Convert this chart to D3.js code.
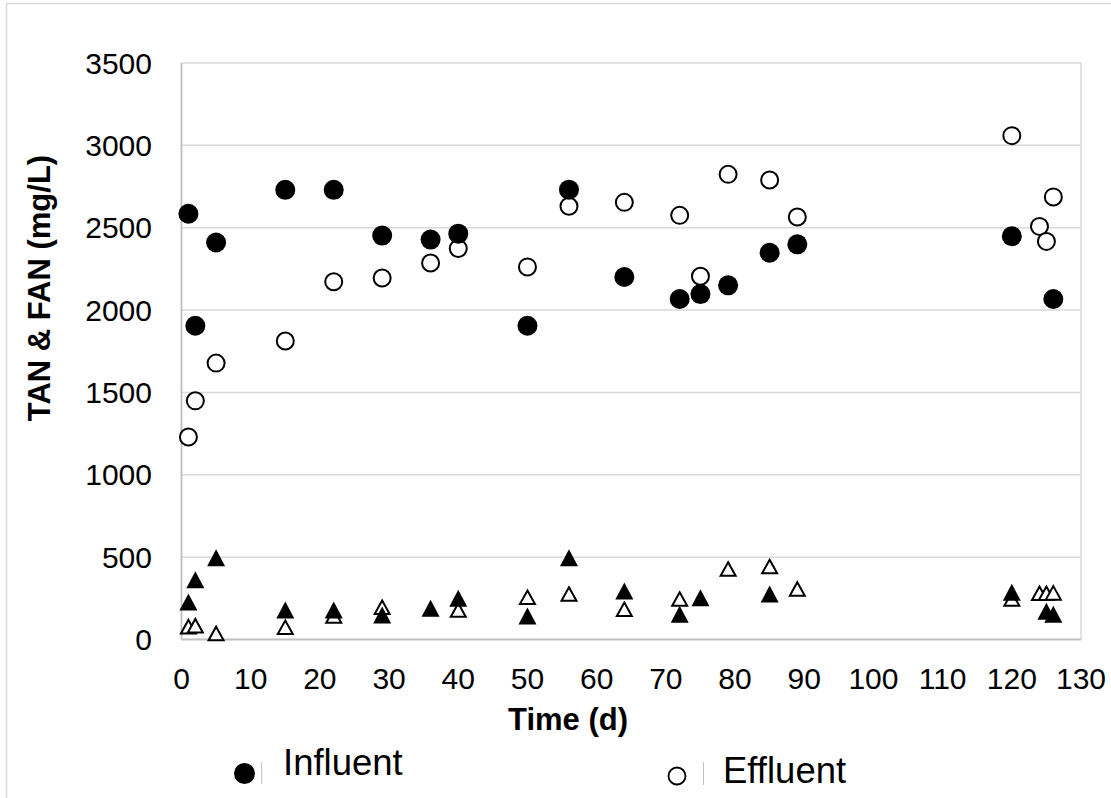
<!DOCTYPE html>
<html>
<head>
<meta charset="utf-8">
<script src="https://cdn.jsdelivr.net/npm/d3@7"></script>
<style>
  html, body { margin: 0; padding: 0; background: #fff; }
  svg { display: block; }
  text { font-family: "Liberation Sans", Arial, sans-serif; fill: #000; }
</style>
</head>
<body>
<div id="chart"></div>
<script>
// ---- data ----
const daysTanIn  = [1, 2, 5, 15, 22, 29, 36, 40, 50, 56, 64, 72, 75, 79, 85, 89, 120, 126];
const tanIn      = [2585, 1905, 2410, 2730, 2730, 2452, 2428, 2464, 1905, 2731, 2201, 2067, 2097, 2150, 2348, 2399, 2448, 2067];

const daysTanEff = [1, 2, 5, 15, 22, 29, 36, 40, 50, 56, 64, 72, 75, 79, 85, 89, 120, 124, 125, 126];
const tanEff     = [1229, 1449, 1678, 1812, 2172, 2195, 2286, 2374, 2262, 2630, 2654, 2575, 2205, 2824, 2790, 2565, 3059, 2508, 2417, 2687];

const daysFanIn  = [1, 2, 5, 15, 22, 29, 36, 40, 50, 56, 64, 72, 75, 85, 120, 125, 126];
const fanIn      = [228, 362, 497, 179, 179, 149, 190, 250, 143, 497, 295, 153, 254, 276, 287, 171, 153];

const daysFanEff = [1, 2, 5, 15, 22, 29, 40, 50, 56, 64, 72, 79, 85, 89, 120, 124, 125, 126];
const fanEff     = [78, 84, 37, 74, 143, 196, 179, 256, 276, 183, 246, 428, 443, 307, 246, 281, 281, 283];

const xTicks = [0, 10, 20, 30, 40, 50, 60, 70, 80, 90, 100, 110, 120, 130];
const yTicks = [0, 500, 1000, 1500, 2000, 2500, 3000, 3500];

const xTitle = "Time (d)";
const yTitle = "TAN & FAN (mg/L)";
const legendLabels = ["Influent", "Effluent"];

// ---- layout ----
const W = 1111, H = 798;
const svg = d3.select("#chart").append("svg").attr("width", W).attr("height", H);

// outer chart border
svg.append("rect").attr("x", 6.5).attr("y", 3.5).attr("width", W + 20).attr("height", H + 20)
  .attr("fill", "none").attr("stroke", "#d9d9d9").attr("stroke-width", 1.5);

const x = d3.scaleLinear().domain([0, 130]).range([181.5, 1081]);
const y = d3.scaleLinear().domain([0, 3500]).range([639.5, 63]);

// gridlines
svg.append("g").selectAll("line").data(yTicks.filter(t => t > 0)).join("line")
  .attr("x1", x(0)).attr("x2", x(130))
  .attr("y1", d => y(d)).attr("y2", d => y(d))
  .attr("stroke", "#d9d9d9").attr("stroke-width", 1.5);

// right border of plot
svg.append("line").attr("x1", x(130)).attr("x2", x(130)).attr("y1", y(3500)).attr("y2", y(0))
  .attr("stroke", "#d9d9d9").attr("stroke-width", 1.5);

// axes lines
svg.append("line").attr("x1", x(0)).attr("x2", x(0)).attr("y1", y(3500)).attr("y2", y(0))
  .attr("stroke", "#bfbfbf").attr("stroke-width", 1.8);
svg.append("line").attr("x1", x(0)).attr("x2", x(130)).attr("y1", y(0)).attr("y2", y(0))
  .attr("stroke", "#bfbfbf").attr("stroke-width", 1.8);

// tick labels
svg.append("g").selectAll("text").data(yTicks).join("text")
  .attr("x", 152).attr("y", d => y(d) + 10.7)
  .attr("text-anchor", "end").attr("font-size", 30).text(d => d);

svg.append("g").selectAll("text").data(xTicks).join("text")
  .attr("x", d => x(d)).attr("y", 689)
  .attr("text-anchor", "middle").attr("font-size", 30).text(d => d);

// titles
svg.append("text").attr("x", 568).attr("y", 730).attr("text-anchor", "middle")
  .attr("font-size", 31).attr("font-weight", "bold").text(xTitle);
svg.append("text").attr("transform", "translate(50,288) rotate(-90)").attr("text-anchor", "middle")
  .attr("font-size", 31).attr("font-weight", "bold").text(yTitle);

// marker helpers
const tri = (w, h) => `M0,${-h / 2}L${w / 2},${h / 2}L${-w / 2},${h / 2}Z`;
const zip = (a, b) => a.map((d, i) => [d, b[i]]);

const g = svg.append("g");
// effluent FAN (open triangles)
g.append("g").selectAll("path").data(zip(daysFanEff, fanEff)).join("path")
  .attr("d", tri(15, 13.5)).attr("transform", d => `translate(${x(d[0])},${y(d[1])})`)
  .attr("fill", "#fff").attr("stroke", "#000").attr("stroke-width", 2);
// effluent TAN (open circles)
g.append("g").selectAll("circle").data(zip(daysTanEff, tanEff)).join("circle")
  .attr("cx", d => x(d[0])).attr("cy", d => y(d[1])).attr("r", 8.5)
  .attr("fill", "#fff").attr("stroke", "#000").attr("stroke-width", 2);
// influent FAN (filled triangles)
g.append("g").selectAll("path").data(zip(daysFanIn, fanIn)).join("path")
  .attr("d", tri(18, 17)).attr("transform", d => `translate(${x(d[0])},${y(d[1])})`)
  .attr("fill", "#000");
// influent TAN (filled circles)
g.append("g").selectAll("circle").data(zip(daysTanIn, tanIn)).join("circle")
  .attr("cx", d => x(d[0])).attr("cy", d => y(d[1])).attr("r", 10)
  .attr("fill", "#000");

// legend
const lg = svg.append("g");
lg.append("circle").attr("cx", 244.5).attr("cy", 773.5).attr("r", 10.5).attr("fill", "#000");
lg.append("line").attr("x1", 261.7).attr("x2", 261.7).attr("y1", 762).attr("y2", 784)
  .attr("stroke", "#bfbfbf").attr("stroke-width", 1);
lg.append("text").attr("x", 283).attr("y", 775).attr("font-size", 36.5).text(legendLabels[0]);

lg.append("circle").attr("cx", 677).attr("cy", 776).attr("r", 8.5)
  .attr("fill", "#fff").attr("stroke", "#000").attr("stroke-width", 1.8);
lg.append("line").attr("x1", 703.5).attr("x2", 703.5).attr("y1", 762).attr("y2", 785)
  .attr("stroke", "#bfbfbf").attr("stroke-width", 1);
lg.append("text").attr("x", 723).attr("y", 783).attr("font-size", 36.5).text(legendLabels[1]);
</script>
</body>
</html>
